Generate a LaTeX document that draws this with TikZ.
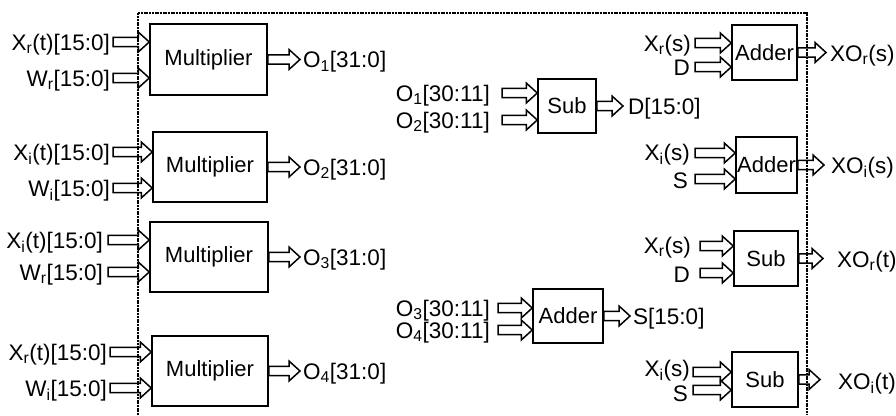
\documentclass[tikz,border=0pt]{standalone}
\usepackage{fontspec}
\setmainfont{Liberation Sans}
\usetikzlibrary{calc}
\tikzset{
  blk/.style={draw, line width=1.5pt, inner sep=0pt, font=\fontsize{22}{26}\selectfont},
  lbl/.style={inner sep=0pt, text height=16pt, text depth=0pt, font=\fontsize{22.5}{26}\selectfont},
  barrow/.style={line width=1.5pt, line join=miter, to path={let \p1=(\tikztostart), \p2=(\tikztotarget) in
    (\x1,\y1+4.6pt) -- (\x2-11pt,\y1+4.6pt) -- (\x2-11pt,\y1+10pt) -- (\x2,\y1) -- (\x2-11pt,\y1-10pt) -- (\x2-11pt,\y1-4.6pt) -- (\x1,\y1-4.6pt) -- cycle}},
  frame/.style={line width=1.7pt, dash pattern=on 2pt off 0.7pt}
}
\newcommand{\sbs}[1]{\textsubscript{#1}}
\begin{document}
\begin{tikzpicture}[x=1pt, y=-1pt]
\useasboundingbox (0,0) rectangle (896,415);
\fill[white] (0,0) rectangle (896,415);
% frame
\coordinate (f1) at (138,415);
\coordinate (f2) at (138,13);
\coordinate (f3) at (807,13);
\coordinate (f4) at (807,415);
\draw[frame] (f1) -- (f2) -- (f3) -- (f4);

% multipliers
\node[blk, minimum width=117pt, minimum height=71pt] (m1) at (208.5,59.5) {Multiplier};
\node[blk, minimum width=114pt, minimum height=70pt] (m2) at (210,167) {Multiplier};
\node[blk, minimum width=118pt, minimum height=70pt] (m3) at (209,257) {Multiplier};
\node[blk, minimum width=116pt, minimum height=70pt] (m4) at (210,371) {Multiplier};

% multiplier inputs
\node[lbl, anchor=east] (m1a) at (110,42) {X\sbs{r}(t)[15:0]};
\node[lbl, anchor=east] (m1b) at (110,78) {W\sbs{r}[15:0]};
\node[lbl, anchor=east] (m2a) at (110,152) {X\sbs{i}(t)[15:0]};
\node[lbl, anchor=east] (m2b) at (110,188) {W\sbs{i}[15:0]};
\node[lbl, anchor=east] (m3a) at (103,240) {X\sbs{i}(t)[15:0]};
\node[lbl, anchor=east] (m3b) at (103,272) {W\sbs{r}[15:0]};
\node[lbl, anchor=east] (m4a) at (107,352) {X\sbs{r}(t)[15:0]};
\node[lbl, anchor=east] (m4b) at (107,388) {W\sbs{i}[15:0]};
\draw[barrow] ([xshift=3pt]m1a.east) to (m1.west |- m1a.east);
\draw[barrow] ([xshift=3pt]m1b.east) to (m1.west |- m1b.east);
\draw[barrow] ([xshift=3pt]m2a.east) to (m2.west |- m2a.east);
\draw[barrow] ([xshift=3pt]m2b.east) to (m2.west |- m2b.east);
\draw[barrow] ([xshift=5pt]m3a.east) to (m3.west |- m3a.east);
\draw[barrow] ([xshift=5pt]m3b.east) to (m3.west |- m3b.east);
\draw[barrow] ([xshift=3pt]m4a.east) to (m4.west |- m4a.east);
\draw[barrow] ([xshift=3pt]m4b.east) to (m4.west |- m4b.east);

% multiplier outputs
\node[lbl, anchor=west] (o1) at (303,59.5) {O\sbs{1}[31:0]};
\node[lbl, anchor=west] (o2) at (303,167) {O\sbs{2}[31:0]};
\node[lbl, anchor=west] (o3) at (303,257) {O\sbs{3}[31:0]};
\node[lbl, anchor=west] (o4) at (303,371) {O\sbs{4}[31:0]};
\draw[barrow] (m1.east) to ([xshift=-3pt]o1.west);
\draw[barrow] (m2.east) to ([xshift=-3pt]o2.west);
\draw[barrow] (m3.east) to ([xshift=-3pt]o3.west);
\draw[barrow] (m4.east) to ([xshift=-3pt]o4.west);

% middle sub
\node[blk, minimum width=58pt, minimum height=54pt] (s1) at (567,106) {Sub};
\node[lbl, anchor=east] (s1a) at (490,93) {O\sbs{1}[30:11]};
\node[lbl, anchor=east] (s1b) at (490,120) {O\sbs{2}[30:11]};
\draw[barrow] ([xshift=12pt]s1a.east) to (s1.west |- s1a.east);
\draw[barrow] ([xshift=12pt]s1b.east) to (s1.west |- s1b.east);
\node[lbl, anchor=west] (d) at (628,106) {D[15:0]};
\draw[barrow] (s1.east) to ([xshift=-5pt]d.west);

% middle adder
\node[blk, minimum width=70pt, minimum height=54pt] (a1) at (568,316) {Adder};
\node[lbl, anchor=east] (a1a) at (490,308) {O\sbs{3}[30:11]};
\node[lbl, anchor=east] (a1b) at (490,330) {O\sbs{4}[30:11]};
\draw[barrow] ([xshift=8pt]a1a.east) to (a1.west |- a1a.east);
\draw[barrow] ([xshift=8pt]a1b.east) to (a1.west |- a1b.east);
\node[lbl, anchor=west] (s) at (633,316) {S[15:0]};
\draw[barrow] (a1.east) to ([xshift=-3pt]s.west);

% right adder 1
\node[blk, minimum width=65pt, minimum height=55pt] (ra1) at (764.5,52.5) {Adder};
\node[lbl, anchor=east] (ra1a) at (691,43) {X\sbs{r}(s)};
\node[lbl, anchor=east] (ra1b) at (690,67) {D};
\draw[barrow] ([xshift=4pt]ra1a.east) to (ra1.west |- ra1a.east);
\draw[barrow] ([xshift=5pt]ra1b.east) to (ra1.west |- ra1b.east);
\node[lbl, anchor=west] (xo1) at (830,53) {XO\sbs{r}(s)};
\draw[barrow] (ra1.east) to ([xshift=-4pt]xo1.west);

% right adder 2
\node[blk, minimum width=61pt, minimum height=56pt] (ra2) at (766.5,165) {Adder};
\node[lbl, anchor=east] (ra2a) at (690,152) {X\sbs{i}(s)};
\node[lbl, anchor=east] (ra2b) at (688,180) {S};
\draw[barrow] ([xshift=5pt, yshift=-1pt]ra2a.east) to (ra2.west |- ra2a.east);
\draw[barrow] ([xshift=7pt, yshift=1pt]ra2b.east) to (ra2.west |- ra2b.east);
\node[lbl, anchor=west] (xo2) at (831,165) {XO\sbs{i}(s)};
\draw[barrow] (ra2.east) to ([xshift=-7pt]xo2.west);

% right sub 1
\node[blk, minimum width=64pt, minimum height=55pt] (rs1) at (766,258.5) {Sub};
\node[lbl, anchor=east] (rs1a) at (691,245) {X\sbs{r}(s)};
\node[lbl, anchor=east] (rs1b) at (690,274) {D};
\draw[barrow] ([xshift=9pt, yshift=-1pt]rs1a.east) to (rs1.west |- rs1a.east);
\draw[barrow] ([xshift=10pt, yshift=1pt]rs1b.east) to (rs1.west |- rs1b.east);
\node[lbl, anchor=west] (xo3) at (837,259) {XO\sbs{r}(t)};
\draw[barrow] (rs1.east) to ([xshift=-14pt]xo3.west);

% right sub 2
\node[blk, minimum width=66pt, minimum height=55pt] (rs2) at (765,379.5) {Sub};
\node[lbl, anchor=east] (rs2a) at (690,368.5) {X\sbs{i}(s)};
\node[lbl, anchor=east] (rs2b) at (688,393) {S};
\draw[barrow] ([xshift=3pt, yshift=-3.5pt]rs2a.east) to (rs2.west |- rs2a.east);
\draw[barrow] ([xshift=5pt, yshift=3pt]rs2b.east) to (rs2.west |- rs2b.east);
\node[lbl, anchor=west] (xo4) at (838,381) {XO\sbs{i}(t)};
\draw[barrow] (rs2.east) to ([xshift=-18pt]xo4.west);
\end{tikzpicture}
\end{document}
